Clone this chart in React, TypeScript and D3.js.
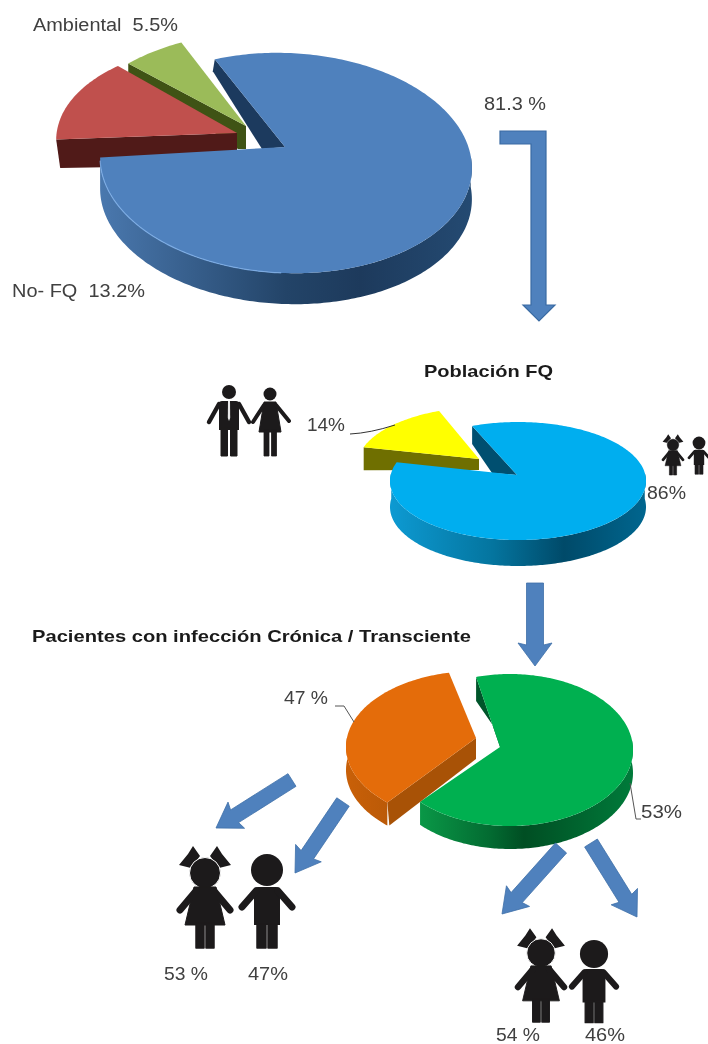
import React from "react";
import * as d3 from "d3";

// ---- data ----
const mainCategories = ["FQ", "No-FQ", "Ambiental"];
const mainValues = [81.3, 13.2, 5.5];
const fqCategories = ["Niños", "Adultos"];
const fqValues = [86, 14];
// the drawn shares of this pie differ from its printed labels (53 % / 47 %)
const infectionCategories = ["Crónica", "Transciente"];
const infectionDrawnShares = [67.5, 32.5];

type Pt = [number, number];
const line = d3.line<Pt>();
const path = (pts: Pt[], close = true) => line(pts)! + (close ? "Z" : "");

type Geo = { cx: number; cy: number; rx: number; ry: number; tilt: number };
const rim = (g: Geo, deg: number, dy = 0): Pt => {
  const a = (deg * Math.PI) / 180;
  const t = (g.tilt * Math.PI) / 180;
  const x = Math.sin(a) * g.rx;
  const y = -Math.cos(a) * g.ry;
  return [g.cx + x * Math.cos(t) - y * Math.sin(t), g.cy + x * Math.sin(t) + y * Math.cos(t) + dy];
};
const arcPts = (g: Geo, a0: number, a1: number, dy = 0): Pt[] => {
  const n = Math.max(2, Math.ceil(Math.abs(a1 - a0)));
  return d3.range(n + 1).map((i) => rim(g, a0 + ((a1 - a0) * i) / n, dy));
};
const angles = (values: number[], start: number): [number, number][] => {
  const scale = d3.scaleLinear().domain([0, d3.sum(values)]).range([start, start + 360]);
  let acc = 0;
  return values.map((v) => {
    const r: [number, number] = [scale(acc), scale(acc + v)];
    acc += v;
    return r;
  });
};

function Slice({ g, range, apex, depth, top, wall, cut }: { g: Geo; range: [number, number]; apex: Pt; depth: number; top: string; wall?: string; cut?: { fill: string; pts: Pt[] } }) {
  const w0 = Math.max(range[0], 82);
  const w1 = Math.min(range[1], 278);
  return (
    <g>
      {cut && <path d={path(cut.pts)} fill={cut.fill} />}
      {wall && w1 > w0 && (
        <path d={path([...arcPts(g, w0, w1), ...arcPts(g, w1, w0, depth)])} fill={wall} />
      )}
      <path d={path([apex, ...arcPts(g, range[0], range[1])])} fill={top} />
    </g>
  );
}

function Grad({ id, x1, x2, stops }: { id: string; x1: number; x2: number; stops: [number, string][] }) {
  return (
    <linearGradient id={id} gradientUnits="userSpaceOnUse" x1={x1} x2={x2} y1={0} y2={0}>
      {stops.map(([o, c]) => (
        <stop key={o} offset={o} stopColor={c} />
      ))}
    </linearGradient>
  );
}

const ARROW = "#4f81bd";
function Arrow({ a, b, w = 15, hw = 31, hl = 22 }: { a: Pt; b: Pt; w?: number; hw?: number; hl?: number }) {
  const len = Math.hypot(b[0] - a[0], b[1] - a[1]);
  const u: Pt = [(b[0] - a[0]) / len, (b[1] - a[1]) / len];
  const n: Pt = [-u[1], u[0]];
  const at = (along: number, side: number): Pt => [a[0] + u[0] * along + n[0] * side, a[1] + u[1] * along + n[1] * side];
  const s = len - hl;
  return (
    <path
      d={path([at(0, -w / 2), at(s, -w / 2), at(s - 2, -hw / 2), b, at(s - 2, hw / 2), at(s, w / 2), at(0, w / 2)])}
      fill={ARROW}
      stroke="#3f70a8"
      strokeWidth={0.8}
    />
  );
}

const INK = "#1c1a1b";
const limb = { stroke: INK, strokeLinecap: "round" as const, fill: "none" };
function Girl({ x, y, s }: { x: number; y: number; s: number }) {
  return (
    <g transform={`translate(${x},${y}) scale(${s})`} fill={INK}>
      <path d="M-5-17-12-27-17-19-26-8-14-5Z M5-17 12-27 17-19 26-8 14-5Z" />
      <circle r={15.5} stroke="#fff" strokeWidth={1} />
      <path d="M-11 14H11L20 52H-20Z" strokeLinejoin="round" stroke={INK} strokeWidth={1} />
      <path d="M-9 18-25 37M9 18 25 37" {...limb} strokeWidth={7} />
      <path d="M-9 50H-1V75H-9Z M1 50H9V75H1Z" stroke={INK} strokeWidth={1.5} strokeLinejoin="round" />
    </g>
  );
}
function Boy({ x, y, s }: { x: number; y: number; s: number }) {
  return (
    <g transform={`translate(${x},${y}) scale(${s})`} fill={INK}>
      <circle r={16} />
      <path d="M-13 21Q-13 17-9 17H9Q13 17 13 21V55H-13Z" />
      <path d="M-11 21-25 37M11 21 25 37" {...limb} strokeWidth={7} />
      <path d="M-10 54H-1V78H-10Z M1 54H10V78H1Z" stroke={INK} strokeWidth={1.5} strokeLinejoin="round" />
    </g>
  );
}
function Man({ x, y }: { x: number; y: number }) {
  return (
    <g transform={`translate(${x},${y})`} fill={INK}>
      <circle r={7} />
      <path d="M-10 12Q-10 9-7 9H7Q10 9 10 12V38H-10Z" />
      <path d="M-10 12-20 30M10 12 20 30" {...limb} strokeWidth={4.4} />
      <path d="M-8 36H-1.5V64H-8Z M1.5 36H8V64H1.5Z" stroke={INK} strokeWidth={1} />
      <path d="M-1 9H1L1.2 26 0 29-1.2 26Z" fill="#e8e8e8" />
    </g>
  );
}
function Woman({ x, y }: { x: number; y: number }) {
  return (
    <g transform={`translate(${x},${y})`} fill={INK}>
      <circle r={6.5} />
      <path d="M-6 8H6L11 38H-11Z" strokeLinejoin="round" stroke={INK} />
      <path d="M-6 11-17 28M6 11 19 27" {...limb} strokeWidth={4} />
      <path d="M-6 36H-1V62H-6Z M1.5 36H6.5V62H1.5Z" stroke={INK} strokeWidth={0.8} />
    </g>
  );
}

const TXT = "#404040";
const FONT = "'Liberation Sans', Arial, sans-serif";
function T({ x, y, children, size = 18, bold, len }: { x: number; y: number; children: React.ReactNode; size?: number; bold?: boolean; len: number }) {
  return (
    <text x={x} y={y} fontSize={size} fontWeight={bold ? 700 : 400} fill={bold ? "#1a1a1a" : TXT} fontFamily={FONT} textLength={len} lengthAdjust="spacingAndGlyphs" xmlSpace="preserve">
      {children}
    </text>
  );
}

export default function App() {
  // pie 1
  const g1: Geo = { cx: 286, cy: 163, rx: 186, ry: 110, tilt: 2.5 };
  const [blue, red, green] = angles(mainValues, -24);
  const gRed: Geo = { cx: 244, cy: 147, rx: 188, ry: 103, tilt: 3 };
  const gGreen: Geo = { cx: 257, cy: 143, rx: 186, ry: 110, tilt: 0 };
  const redApex: Pt = [237, 133];
  const greenApex: Pt = [246, 126];
  const blueApex: Pt = [285, 147];
  const greenA = rim(gGreen, green[0]);
  const redL = rim(gRed, red[0]);
  const blueS = rim(g1, blue[0]);

  // pie 2
  const g2: Geo = { cx: 518, cy: 481, rx: 128, ry: 59, tilt: 0 };
  const [cyan, yellow] = angles(fqValues, -21);
  const gYellow: Geo = { cx: 485, cy: 466, rx: 128, ry: 59, tilt: 0 };
  const cyanApex: Pt = [517, 475];
  const yellowApex: Pt = [479, 459];
  const cyanS = rim(g2, cyan[0]);
  const yellowL = rim(gYellow, yellow[0]);

  // pie 3
  const g3: Geo = { cx: 510, cy: 750, rx: 123, ry: 76, tilt: 0 };
  const [greenB, orangeShare] = angles(infectionDrawnShares, -16);
  // the exploded slice is seen a little wider than its share
  const orange: [number, number] = [orangeShare[0] - 4, orangeShare[1] + 4];
  const gOrange: Geo = { cx: 476, cy: 747, rx: 130, ry: 76, tilt: 0 };
  const greenApexB: Pt = [500, 747];
  const orangeApex: Pt = [476, 738];
  const greenS = rim(g3, greenB[0]);
  const orangeB = rim(gOrange, orange[0]);

  return (
    <svg width={708} height={1044} style={{ position: "absolute", left: 0, top: 0, background: "#fff" }} aria-label={[...mainCategories, ...fqCategories, ...infectionCategories].join(", ")}>
      <defs>
        <Grad id="wallBlue" x1={100} x2={472} stops={[[0, "#4a78ae"], [0.5, "#234468"], [0.7, "#1d3a5c"], [1, "#244a72"]]} />
        <Grad id="wallCyan" x1={390} x2={646} stops={[[0, "#0d9ad2"], [0.4, "#04759f"], [0.68, "#004a69"], [1, "#00668f"]]} />
        <Grad id="wallGreen" x1={416} x2={632} stops={[[0, "#0a9a48"], [0.35, "#036a31"], [0.5, "#004e23"], [1, "#007a3a"]]} />
        <Grad id="wallOrange" x1={345} x2={470} stops={[[0, "#c96008"], [1, "#a04e06"]]} />
        <filter id="soft" x="0" y="0" width="708" height="1044" colorInterpolationFilters="sRGB" filterUnits="userSpaceOnUse">
          <feGaussianBlur stdDeviation={0.45} />
        </filter>
      </defs>

      <g filter="url(#soft)">
        <rect width={708} height={1044} fill="#fff" />
        {/* pie 1 */}
        <Slice g={gGreen} range={green} apex={greenApex} depth={0} top="#9bbb59"
          cut={{ fill: "#3f5315", pts: [greenA, greenApex, [greenApex[0], 149], [greenApex[0] - 8, 149], [greenA[0], greenA[1] + 10]] }} />
        <Slice g={gRed} range={red} apex={redApex} depth={0} top="#c0504d"
          cut={{ fill: "#501a18", pts: [redL, redApex, [redApex[0], 165], [redL[0] + 4, 168]] }} />
        <path d={path([blueS, blueApex, [262, 149], [blueS[0] - 2, blueS[1] + 12]])} fill="#1c3a5e" />
        <Slice g={g1} range={blue} apex={blueApex} depth={31} top="#4f81bd" wall="url(#wallBlue)" />
        <path d={path(arcPts(g1, 180, 267, 0), false)} fill="none" stroke="#7fb0ea" strokeWidth={1.2} opacity={0.8} />

        {/* pie 2 */}
        <Slice g={gYellow} range={yellow} apex={yellowApex} depth={0} top="#ffff00"
          cut={{ fill: "#6f6f00", pts: [yellowL, yellowApex, [yellowApex[0], 470], [yellowL[0], yellowL[1] + 23]] }} />
        <path d={path([cyanS, cyanApex, [492, 473], [cyanS[0], cyanS[1] + 18]])} fill="#004f70" />
        <Slice g={g2} range={cyan} apex={cyanApex} depth={26} top="#00aeef" wall="url(#wallCyan)" />

        {/* pie 3 */}
        <path d={path([greenS, greenApexB, [505, 743], [greenS[0], greenS[1] + 24]])} fill="#00552a" />
        <Slice g={g3} range={greenB} apex={greenApexB} depth={23} top="#00b050" wall="url(#wallGreen)" />
        <path d={path([orangeB, orangeApex, [orangeApex[0], orangeApex[1] + 21], [orangeB[0] + 2, orangeB[1] + 23]])} fill="#a85206" />
        <Slice g={gOrange} range={orange} apex={orangeApex} depth={23} top="#e46c0a" wall="url(#wallOrange)" />

        {/* bent arrow */}
        <path d={path([[500, 131], [546, 131], [546, 305], [555, 305], [539, 321], [523, 305], [531, 305], [531, 144], [500, 144]])} fill={ARROW} stroke="#3a6ba3" strokeWidth={1.2} />
        <Arrow a={[535, 583]} b={[535, 666]} w={17} hw={34} hl={21} />
        <Arrow a={[292, 780]} b={[216, 828]} />
        <Arrow a={[343, 802]} b={[295, 873]} />
        <Arrow a={[561, 848]} b={[502, 914]} />
        <Arrow a={[591, 843]} b={[637, 917]} />

        {/* pictograms */}
        <Man x={229} y={392} />
        <Woman x={270} y={394} />
        <Girl x={673} y={445} s={0.4} />
        <Boy x={699} y={443} s={0.4} />
        <Girl x={205} y={873} s={1} />
        <Boy x={267} y={870} s={1} />
        <Girl x={541} y={953} s={0.92} />
        <Boy x={594} y={954} s={0.88} />

        {/* leader lines */}
        <path d="M350 434Q370 433 395 425" fill="none" stroke="#333" strokeWidth={1} />
        <path d="M335 706H344L354 722" fill="none" stroke="#555" strokeWidth={1} />
        <path d="M630 783L636 819H641" fill="none" stroke="#555" strokeWidth={1} />

        {/* text */}
        <T x={33} y={31} len={145}>{"Ambiental  5.5%"}</T>
        <T x={484} y={110} len={62}>81.3 %</T>
        <T x={12} y={297} len={133}>{"No- FQ  13.2%"}</T>
        <T x={424} y={377} bold size={17} len={129}>Población FQ</T>
        <T x={307} y={431} len={38}>14%</T>
        <T x={647} y={499} len={39}>86%</T>
        <T x={32} y={642} bold size={16.5} len={439}>Pacientes con infección Crónica / Transciente</T>
        <T x={284} y={704} len={44}>47 %</T>
        <T x={641} y={818} len={41}>53%</T>
        <T x={164} y={980} len={44}>53 %</T>
        <T x={248} y={980} len={40}>47%</T>
        <T x={496} y={1041} len={44}>54 %</T>
        <T x={585} y={1041} len={40}>46%</T>
      </g>
    </svg>
  );
}
